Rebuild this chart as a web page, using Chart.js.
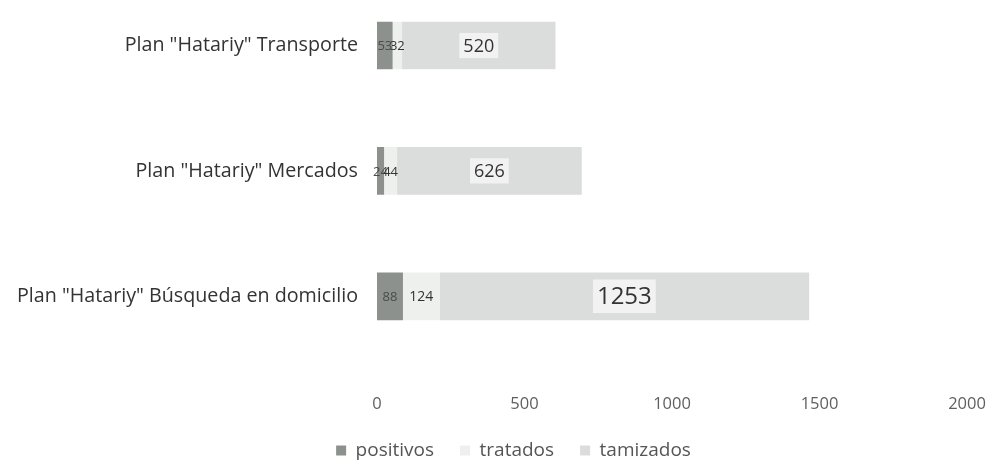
<!DOCTYPE html>
<html>
<head>
<meta charset="utf-8">
<script src="https://cdn.jsdelivr.net/npm/chart.js@4.4.0/dist/chart.umd.min.js"></script>
<style>
  html, body { margin:0; padding:0; background:#ffffff; width:995px; height:465px; overflow:hidden; }
  #wrap { position:absolute; left:0; top:-40px; width:995px; height:510px; }
</style>
</head>
<body>
<div id="wrap"><canvas id="c" width="995" height="510"></canvas></div>
<script>
const categories = ['Plan "Hatariy" Transporte', 'Plan "Hatariy" Mercados', 'Plan "Hatariy" Búsqueda en domicilio'];
const seriesNames = ['positivos', 'tratados', 'tamizados'];
const positivos = [53, 24, 88];
const tratados = [32, 44, 124];
const tamizados = [520, 626, 1253];
const xTicks = [0, 500, 1000, 1500, 2000];

const FONT = '"Open Sans", "Noto Sans", sans-serif';

const labelPlugin = {
  id: 'barLabels',
  beforeDraw(chart) {
    // centre the legend under the plot like the original
    const lg = chart.legend;
    if (lg) { lg.left = 60; lg.right = 967; lg.width = 907; }
  },
  afterDatasetsDraw(chart) {
    const ctx = chart.ctx;
    ctx.save();
    chart.data.datasets.forEach((ds, di) => {
      const meta = chart.getDatasetMeta(di);
      meta.data.forEach((el, i) => {
        const p = el.getProps(['x', 'base', 'y'], true);
        const cx = (p.x + p.base) / 2;
        const cy = p.y;
        const txt = String(ds.data[i]);
        let size = 13;
        if (di === 2) size = (ds.data[i] > 1000) ? 24 : 18;
        else if (di === 1 && ds.data[i] > 100) size = 14;
        ctx.font = size + 'px ' + FONT;
        ctx.textAlign = 'center';
        ctx.textBaseline = 'middle';
        if (di === 2) {
          const w = ctx.measureText(txt).width + 8;
          ctx.fillStyle = 'rgba(245,246,245,0.85)';
          ctx.fillRect(cx - w / 2, cy - size * 0.7, w, size * 1.4);
        }
        ctx.fillStyle = di === 0 ? '#4a4d4a' : '#333333';
        ctx.fillText(txt, cx, cy + 1);
      });
    });
    ctx.restore();
  }
};

new Chart(document.getElementById('c'), {
  type: 'bar',
  data: {
    labels: categories,
    datasets: [
      { label: seriesNames[0], data: positivos, backgroundColor: '#8c918d' },
      { label: seriesNames[1], data: tratados, backgroundColor: '#eef0ee' },
      { label: seriesNames[2], data: tamizados, backgroundColor: '#dadddb' }
    ]
  },
  options: {
    indexAxis: 'y',
    responsive: false,
    animation: false,
    devicePixelRatio: 1,
    layout: { padding: { left: 0, right: 28, top: 0, bottom: 0 } },
    datasets: { bar: { categoryPercentage: 1.0, barPercentage: 0.38 } },
    scales: {
      x: {
        stacked: true,
        min: 0, max: 2000,
        afterBuildTicks(axis) { axis.ticks = xTicks.map(v => ({ value: v })); },
        grid: { display: false },
        border: { display: false },
        ticks: { color: '#5f5f5f', font: { family: FONT, size: 16.5 }, padding: 27,
                 callback: (v) => String(v) },
        afterFit(axis) { axis.height = 56; axis.paddingRight = 0; axis.paddingLeft = 0; }
      },
      y: {
        stacked: true,
        grid: { display: false },
        border: { display: false },
        ticks: { color: '#333333', font: { family: FONT, size: 19.7 }, padding: 11 },
        afterFit(axis) { axis.width = 377; }
      }
    },
    plugins: {
      legend: {
        position: 'bottom',
        labels: {
          color: '#555555',
          font: { family: FONT, size: 19 },
          boxWidth: 10, boxHeight: 10,
          padding: 26
        }
      },
      tooltip: { enabled: false }
    }
  },
  plugins: [labelPlugin]
});
</script>
</body>
</html>
